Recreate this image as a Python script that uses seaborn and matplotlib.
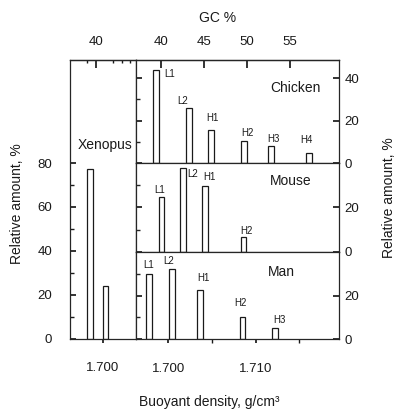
import numpy as np
import pandas as pd
import matplotlib
matplotlib.use('Agg')
import matplotlib.pyplot as plt
import seaborn as sns

# values (buoyant density g/cm3, relative amount %)
xenopus_density = [1.6985, 1.7003]
xenopus_amount = [77.5, 24.0]

chicken_labels = ['L1', 'L2', 'H1', 'H2', 'H3', 'H4']
chicken_density = [1.6986, 1.7024, 1.7049, 1.7087, 1.7118, 1.7161]
chicken_amount = [44.0, 26.0, 15.5, 10.3, 7.8, 4.7]

mouse_labels = ['L1', 'L2', 'H1', 'H2']
mouse_density = [1.6992, 1.7017, 1.7042, 1.7086]
mouse_amount = [24.6, 37.2, 29.5, 6.8]

man_labels = ['L1', 'L2', 'H1', 'H2', 'H3']
man_density = [1.6978, 1.7004, 1.7036, 1.7085, 1.7122]
man_amount = [30.2, 32.5, 22.5, 10.2, 5.1]

gc_ticks = [40, 45, 50, 55]
density_ticks = [1.700, 1.710]

# label offsets (points) relative to bar tops
chicken_off = [(10, -3.5), (-5, 5), (1, 8.5), (2.5, 5.5), (1.5, 5), (-1.5, 9.5)]
mouse_off = [(-1.5, 5), (7, -4), (3, 6.5), (2.5, 4)]
man_off = [(-0.5, 6.5), (-2.5, 5.5), (3, 9), (-1.5, 10), (3, 6)]

sns.set_theme(style='ticks')
plt.rcParams['font.family'] = ['Liberation Sans', 'DejaVu Sans']
plt.rcParams['axes.linewidth'] = 0.9
INK = '#1a1a1a'
TICK_FS = 9.5
BAR_W = 0.00065


def gc_to_rho(gc):
    return 1.660 + 0.098 * np.asarray(gc, dtype=float) / 100


def rho_to_gc(rho):
    return (np.asarray(rho, dtype=float) - 1.660) / 0.098 * 100


def draw_bars(ax, density, amount):
    df = pd.DataFrame({'density': density, 'amount': amount})
    step = np.diff(np.sort(df['density'])).min()
    sns.barplot(data=df, x='density', y='amount', native_scale=True,
                width=BAR_W / step, fill=False, color=INK, linewidth=0.9,
                errorbar=None, ax=ax)
    ax.set(xlabel='', ylabel='')


def label_bars(ax, labels, density, amount, offsets):
    for lab, x, h, (dx, dy) in zip(labels, density, amount, offsets):
        ax.annotate(lab, (x, h), xytext=(dx, dy), textcoords='offset points',
                    ha='center', va='center', fontsize=7, color=INK)


fig = plt.figure(figsize=(3.96, 4.13), dpi=100)
W, H = 396, 413

ax_x = fig.add_axes([70 / W, 1 - 338.5 / H, 66 / W, 278.5 / H])
ax_c = fig.add_axes([136 / W, 1 - 163 / H, 203 / W, 103 / H])
ax_m = fig.add_axes([136 / W, 1 - 252 / H, 203 / W, 89 / H])
ax_h = fig.add_axes([136 / W, 1 - 339 / H, 203 / W, 87 / H])

# Xenopus panel
draw_bars(ax_x, xenopus_density, xenopus_amount)
ax_x.set_xlim(1.69624, 1.70376)
ax_x.set_ylim(0, 127)
ax_x.set_yticks([0, 20, 40, 60, 80])
ax_x.set_yticks([10, 30, 50, 70], minor=True)
ax_x.tick_params(axis='y', which='both', direction='in', left=True, right=False,
                 labelsize=TICK_FS, pad=13, colors=INK)
ax_x.tick_params(axis='y', which='major', length=4)
ax_x.tick_params(axis='y', which='minor', length=3)
ax_x.set_xticks([1.700])
ax_x.set_xticklabels(['1.700'])
ax_x.tick_params(axis='x', direction='out', length=3, pad=14, labelsize=TICK_FS, colors=INK)
ax_x.text(0.53, 0.695, 'Xenopus', transform=ax_x.transAxes, ha='center', va='center',
          fontsize=10, color=INK)
sec_x = ax_x.secondary_xaxis('top', functions=(rho_to_gc, gc_to_rho))
sec_x.set_xticks([40])
sec_x.set_xticks([39, 42, 43, 44], minor=True)
sec_x.tick_params(which='both', direction='in', labelsize=TICK_FS, pad=8.5, colors=INK)
sec_x.tick_params(which='major', length=6)
sec_x.tick_params(which='minor', length=2.5)

# species panels
panels = [
    (ax_c, 'Chicken', chicken_labels, chicken_density, chicken_amount, chicken_off,
     48.5, [0, 20, 40], [10, 30], (0.784, 0.728)),
    (ax_m, 'Mouse', mouse_labels, mouse_density, mouse_amount, mouse_off,
     39.6, [0, 20], [10, 30], (0.76, 0.798)),
    (ax_h, 'Man', man_labels, man_density, man_amount, man_off,
     40.3, [0, 20], [10, 30], (0.716, 0.77)),
]
for ax, name, labs, dens, amt, off, ytop, major, minor, pos in panels:
    draw_bars(ax, dens, amt)
    label_bars(ax, labs, dens, amt, off)
    ax.set_xlim(1.69629, 1.71956)
    ax.set_ylim(0, ytop)
    ax.set_yticks(major)
    ax.set_yticks(minor, minor=True)
    ax.tick_params(axis='y', which='major', direction='in', left=True, right=True,
                   labelleft=False, labelright=True, length=4, pad=4,
                   labelsize=TICK_FS, colors=INK)
    ax.tick_params(axis='y', which='minor', direction='in', left=True, right=False,
                   length=3)
    ax.text(pos[0], pos[1], name, transform=ax.transAxes, ha='center', va='center',
            fontsize=10, color=INK)
    if ax is ax_h:
        ax.set_xticks(density_ticks)
        ax.set_xticklabels([f'{v:.3f}' for v in density_ticks])
        ax.set_xticks([1.705, 1.715], minor=True)
        ax.tick_params(axis='x', which='both', direction='out', length=3, pad=14,
                       labelsize=TICK_FS, colors=INK)
    else:
        ax.set_xticks([])

sec_c = ax_c.secondary_xaxis('top', functions=(rho_to_gc, gc_to_rho))
sec_c.set_xticks(gc_ticks)
sec_c.tick_params(direction='in', length=6, labelsize=TICK_FS, pad=8.5, colors=INK)

fig.text(218 / W, 1 - 18 / H, 'GC %', ha='center', va='center', fontsize=10, color=INK)
fig.text(209 / W, 1 - 402 / H, 'Buoyant density, g/cm\u00b3', ha='center', va='center',
         fontsize=10, color=INK)
fig.text(17 / W, 1 - 204 / H, 'Relative amount, %', rotation=90, ha='center',
         va='center', fontsize=10, color=INK)
fig.text(389 / W, 1 - 198 / H, 'Relative amount, %', rotation=90, ha='center',
         va='center', fontsize=10, color=INK)

fig.savefig('out.png', dpi=100)
